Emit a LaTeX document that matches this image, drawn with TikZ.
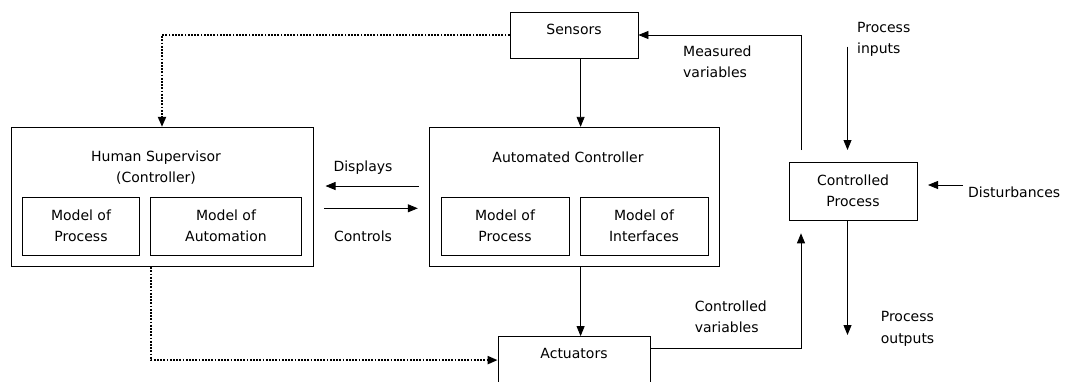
\documentclass[tikz,border=0pt]{standalone}
\usepackage{fontspec}
\setmainfont{DejaVu Sans}
\usetikzlibrary{arrows.meta,calc}
\newcommand\fsz{\fontsize{14pt}{21.3pt}\selectfont}
\begin{document}
\begin{tikzpicture}[x=1pt,y=-1pt,
  box/.style={draw,line width=0.8pt,inner sep=0pt,align=center,font=\fsz},
  lbl/.style={inner sep=0pt,align=left,font=\fsz},
  arr/.style={line width=0.8pt,-{Triangle[length=10pt,width=8pt]}},
  dotarr/.style={line width=2pt,dash pattern=on 1.8pt off 1.4pt,-{Triangle[length=10pt,width=8pt]}}]
\useasboundingbox (0,0) rectangle (1069,381);
\clip (0,0) rectangle (1069,381);
% boxes
\node[box,minimum width=128pt,minimum height=46pt] (S) at (574,35) {};
\node[lbl] (St) at (574,29) {Sensors};
\node[box,minimum width=302pt,minimum height=139.5pt] (H) at (162,197) {};
\node[lbl,align=center] (Ht) at (156,167.5) {Human Supervisor\\(Controller)};
\node[box,minimum width=117.5pt,minimum height=58pt] (HP) at (81,226) {Model of\\Process};
\node[box,minimum width=151pt,minimum height=58pt] (HA) at (226,226) {Model of\\Automation};
\node[box,minimum width=290pt,minimum height=139.5pt] (A) at (574,197) {};
\node[lbl] (At) at (568,157) {Automated Controller};
\node[box,minimum width=128pt,minimum height=58pt] (AP) at (505,226) {Model of\\Process};
\node[box,minimum width=128pt,minimum height=58pt] (AI) at (644,226) {Model of\\Interfaces};
\node[box,minimum width=152pt,minimum height=67pt] (Act) at (574,370) {};
\node[lbl] (Actt) at (574,353) {Actuators};
\node[box,minimum width=128pt,minimum height=58pt] (C) at (853,191) {Controlled\\Process};
% free ends
\coordinate (d1) at (418.5,186);
\coordinate (d2) at (325.5,186);
\coordinate (c1) at (324.4,208.3);
\coordinate (c2) at (417.8,208.3);
\coordinate (cv) at (801,233.3);
\coordinate (mv) at (801,150);
\coordinate (pi1) at (847.5,46.7);
\coordinate (pi2) at (847.5,150);
\coordinate (di1) at (963,185);
\coordinate (di2) at (928,185);
\coordinate (po) at (847.5,335);
% connectors
\draw[dotarr] (S.west) -| (H.north);
\draw[dotarr] ([xshift=-11.2pt]H.south) |- ([yshift=-24pt]Act.north west);
\draw[arr] ([xshift=6.6pt]S.south) -- ([xshift=6.6pt]A.north);
\draw[arr] ([xshift=6.6pt]A.south) -- ([xshift=6.6pt]Act.north);
\draw[arr] (d1) -- (d2);
\draw[arr] (c1) -- (c2);
\draw[arr] ([yshift=-11.8pt]Act.north east) -| (cv);
\draw[arr] (mv) |- (S.east);
\draw[arr] (pi1) -- (pi2);
\draw[arr] (di1) -- (di2);
\draw[arr] ([xshift=-5.5pt]C.south) -- (po);
% labels
\node[lbl] (ld) at (363,167.7) {Displays};
\node[lbl] (lc) at (363,236.7) {Controls};
\node[lbl,anchor=west] (lm) at (683,61.7) {Measured\\variables};
\node[lbl,anchor=west] (lpi) at (857,39.2) {Process\\inputs};
\node[lbl,anchor=west] (ldi) at (968,192) {Disturbances};
\node[lbl,anchor=west] (lpo) at (880.6,328.8) {Process\\outputs};
\node[lbl,anchor=west] (lcv) at (694.6,317) {Controlled\\variables};
\end{tikzpicture}
\end{document}
